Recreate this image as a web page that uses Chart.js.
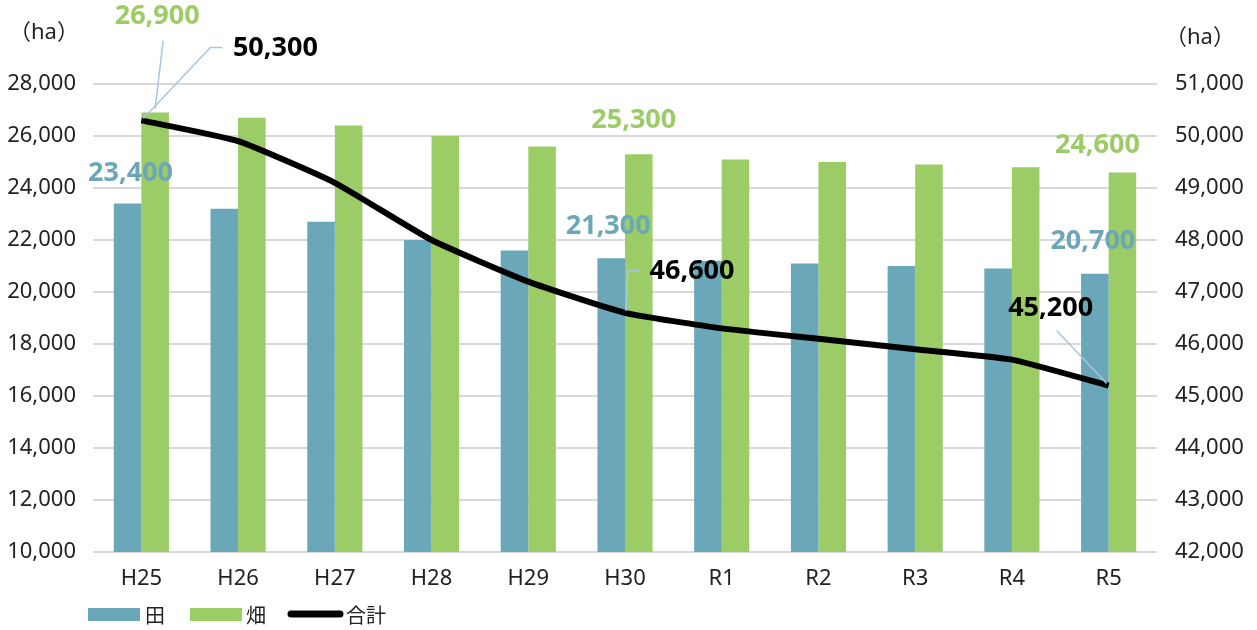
<!DOCTYPE html>
<html lang="ja">
<head>
  <meta charset="UTF-8">
  <title>田畑面積の推移</title>
  <script src="https://cdn.jsdelivr.net/npm/chart.js"></script>
  <style>
    html, body { margin: 0; padding: 0; background: #fff; }
    #wrap { width: 1257px; height: 630px; position: relative; }
  </style>
</head>
<body>
  <div id="wrap"><canvas id="chart"></canvas></div>
  <script>
    // 年次
    const years = ["H25", "H26", "H27", "H28", "H29", "H30", "R1", "R2", "R3", "R4", "R5"];
    // 田 (ha)
    const paddy = [23400, 23200, 22700, 22000, 21600, 21300, 21200, 21100, 21000, 20900, 20700];
    // 畑 (ha)
    const field = [26900, 26700, 26400, 26000, 25600, 25300, 25100, 25000, 24900, 24800, 24600];
    // 合計 (ha) 右軸
    const total = [50300, 49900, 49100, 48000, 47200, 46600, 46300, 46100, 45900, 45700, 45200];
    // 値ラベルを表示する年次
    const labelIdx = [0, 5, 10];

    const FONT = "'Noto Sans', 'Noto Sans CJK JP', sans-serif";
    const BLUE = "#6aa7b8";
    const GREEN = "#9ccc65";
    const LEADER = "#a9c4e4";

    // ラベル位置のずれ (px) と引出線
    const labelStyle = {
      paddy: { 0: { dx: 3, dy: -30 }, 5: { dx: -3, dy: -32 }, 10: { dx: -2, dy: -32 } },
      field: { 0: { dx: 2, dy: -96, leader: [[8, -72], [0, -4]] }, 5: { dx: -5, dy: -34 }, 10: { dx: -25, dy: -27 } },
      total: {
        0: { dx: 134, dy: -72, leader: [[81, -73], [69, -73], [2, -2]] },
        5: { dx: 67, dy: -41, leader: [[15, -42], [3, -42], [1, -2]] },
        10: { dx: -58, dy: -77, leader: [[-52, -55], [-2, -2]] }
      }
    };

    const fmt = v => v.toLocaleString("en-US");

    const valueLabels = {
      id: "valueLabels",
      afterDatasetsDraw(chart) {
        const ctx = chart.ctx;
        const sets = [
          { meta: chart.getDatasetMeta(1), vals: paddy, color: BLUE, st: labelStyle.paddy },
          { meta: chart.getDatasetMeta(2), vals: field, color: GREEN, st: labelStyle.field },
          { meta: chart.getDatasetMeta(0), vals: total, color: "#000", st: labelStyle.total }
        ];
        ctx.save();
        ctx.font = "bold 27px " + FONT;
        ctx.textAlign = "center";
        ctx.textBaseline = "middle";
        sets.forEach(s => {
          labelIdx.forEach(i => {
            const el = s.meta.data[i];
            const o = s.st[i];
            if (o.leader) {
              ctx.strokeStyle = LEADER;
              ctx.lineWidth = 1.5;
              ctx.beginPath();
              o.leader.forEach((p, k) => {
                if (k === 0) ctx.moveTo(el.x + p[0], el.y + p[1]);
                else ctx.lineTo(el.x + p[0], el.y + p[1]);
              });
              ctx.stroke();
            }
            ctx.fillStyle = s.color;
            ctx.fillText(fmt(s.vals[i]), el.x + o.dx, el.y + o.dy);
          });
        });
        ctx.restore();
      }
    };

    const extras = {
      id: "extras",
      afterDraw(chart) {
        const ctx = chart.ctx;
        ctx.save();
        ctx.fillStyle = "#222";
        ctx.font = "22px " + FONT;
        ctx.textBaseline = "middle";
        ctx.textAlign = "left";
        ctx.fillText("（ha）", 9, 33);
        ctx.fillText("（ha）", 1165, 38);

        // 凡例
        const ly = 615;
        ctx.fillStyle = BLUE;
        ctx.fillRect(88, ly - 7, 52, 13);
        ctx.fillStyle = GREEN;
        ctx.fillRect(190, ly - 7, 52, 13);
        ctx.strokeStyle = "#000";
        ctx.lineWidth = 7;
        ctx.lineCap = "round";
        ctx.beginPath();
        ctx.moveTo(291, ly - 1);
        ctx.lineTo(340, ly - 1);
        ctx.stroke();
        ctx.fillStyle = "#222";
        ctx.font = "20px " + FONT;
        ctx.fillText("田", 145, ly + 2);
        ctx.fillText("畑", 246, ly + 2);
        ctx.fillText("合計", 346, ly + 2);
        ctx.restore();
      }
    };

    new Chart(document.getElementById("chart"), {
      data: {
        labels: years,
        datasets: [
          {
            type: "line",
            label: "合計",
            data: total,
            yAxisID: "y2",
            borderColor: "#000",
            backgroundColor: "#000",
            borderWidth: 6,
            tension: 0.15,
            pointRadius: 0,
            order: 0
          },
          {
            type: "bar",
            label: "田",
            data: paddy,
            yAxisID: "y",
            backgroundColor: BLUE,
            barPercentage: 1,
            categoryPercentage: 0.57,
            order: 1
          },
          {
            type: "bar",
            label: "畑",
            data: field,
            yAxisID: "y",
            backgroundColor: GREEN,
            barPercentage: 1,
            categoryPercentage: 0.57,
            order: 2
          }
        ]
      },
      options: {
        responsive: true,
        maintainAspectRatio: false,
        animation: false,
        layout: { padding: { top: 84, bottom: 0, left: 0, right: 0 } },
        plugins: {
          legend: { display: false },
          tooltip: { enabled: false }
        },
        scales: {
          x: {
            offset: true,
            afterFit: s => { s.height = 78; },
            grid: { display: false, drawTicks: false },
            border: { display: false },
            ticks: { color: "#222", font: { family: FONT, size: 22 }, padding: 14 }
          },
          y: {
            position: "left",
            min: 10000,
            max: 28000,
            afterFit: s => { s.width = 93; },
            grid: { color: "#d9d9d9", lineWidth: 2, drawTicks: false },
            border: { display: false },
            ticks: {
              stepSize: 2000,
              color: "#222",
              padding: 17,
              font: { family: FONT, size: 22 },
              callback: v => fmt(v)
            }
          },
          y2: {
            position: "right",
            min: 42000,
            max: 51000,
            afterFit: s => { s.width = 100; },
            grid: { display: false, drawTicks: false },
            border: { display: false },
            ticks: {
              stepSize: 1000,
              color: "#222",
              padding: 18,
              font: { family: FONT, size: 22 },
              callback: v => fmt(v)
            }
          }
        }
      },
      plugins: [valueLabels, extras]
    });
  </script>
</body>
</html>
